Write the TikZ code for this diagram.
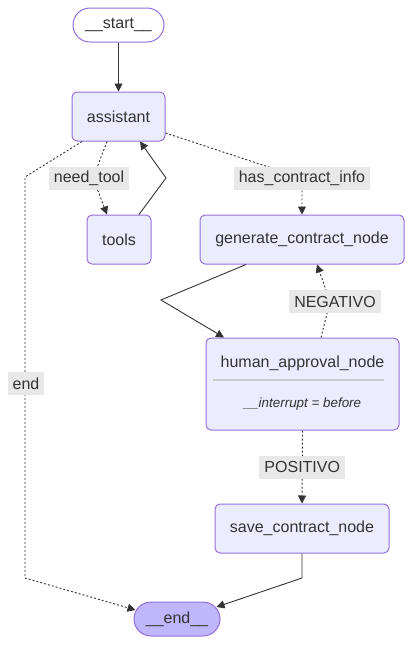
\documentclass[tikz,border=0pt]{standalone}
\usepackage{fontspec}
\setmainfont{Liberation Sans}
\usetikzlibrary{arrows.meta, calc, positioning}
\usepackage{xcolor}
\definecolor{nodefill}{HTML}{ECECFF}
\definecolor{nodeline}{HTML}{9370DB}
\definecolor{endfill}{HTML}{BFB6FC}
\definecolor{ink}{HTML}{333333}
\definecolor{lblfill}{HTML}{E8E8E8}
\definecolor{sepgray}{HTML}{CCCCCC}

\begin{document}
\begin{tikzpicture}[x=1pt, y=-1pt, text=ink,
  font=\fontsize{16}{19}\selectfont,
  box/.style={draw=nodeline, fill=nodefill, line width=1pt, rounded corners=5pt,
    minimum height=49pt, inner sep=0pt},
  pill/.style={draw=nodeline, line width=1pt, rounded corners=17pt,
    minimum height=34pt, inner sep=0pt},
  solidedge/.style={draw=ink, line width=0.9pt, -{Triangle[length=8pt, width=8pt]}},
  dotedge/.style={solidedge, dash pattern=on 2pt off 2pt},
  lbl/.style={fill=lblfill, inner xsep=5pt, inner ysep=0pt, minimum height=23pt}]
  \useasboundingbox (0,0) rectangle (412,645);

  % nodes
  \node[pill, fill=white, minimum width=91pt] (start) at (118.5,25) {\_\_start\_\_};
  \node[box, minimum width=93pt] (assistant) at (118.5,116.5) {assistant};
  \node[box, minimum width=64pt] (tools) at (119,239.5) {tools};
  \node[box, minimum width=204pt] (generate) at (302,239.5) {generate\_contract\_node};
  \node[box, minimum width=193pt, minimum height=92pt] (human) at (302.5,384) {};
  \node (htitle) at (302.5,363) {human\_approval\_node};
  \node[font=\fontsize{13.4}{16}\selectfont\itshape] (hnote) at (302.5,404) {\_\_interrupt = before};
  \draw[sepgray, line width=1.5pt] (213,380) -- (384,380);
  \node[box, minimum width=174pt] (save) at (302,528.5) {save\_contract\_node};
  \node[pill, fill=endfill, minimum width=86pt] (end) at (177,619) {\_\_end\_\_};

  % edges
  \draw[solidedge] (start) -- (assistant);
  \draw[dotedge] ([xshift=-11.5pt]assistant.south) -- (93,178)
    node[lbl, xshift=-4pt] (lneed) {need\_tool} -- ([xshift=-12pt]tools.north);
  \draw[solidedge] ([xshift=20pt]tools.north) -- (166,178) -- ([xshift=21.5pt]assistant.south);
  \draw[dotedge] ([yshift=-16.5pt]assistant.east) -- (302,178)
    node[lbl] (linfo) {has\_contract\_info} -- (generate);
  \draw[dotedge] ([xshift=-36.5pt]assistant.south) -- (25,177) -- (25,383.5)
    node[lbl, xshift=1pt] (lend) {end} -- (25,578) -- ($(end.west)+(2,-9)$);
  \draw[solidedge] ([xshift=-56pt]generate.south) -- (161,300) -- ([xshift=-78.5pt]human.north);
  \draw[dotedge] ([xshift=18.5pt]human.north) -- (330,301.5)
    node[lbl, xshift=5pt] (lneg) {NEGATIVO} -- ([xshift=15pt]generate.south);
  \draw[dotedge] (human.south) -- (save.north)
    node[lbl, midway] (lpos) {POSITIVO};
  \draw[solidedge] (save.south) -- (302,578) -- ($(end.east)+(-4,-12)$);
\end{tikzpicture}
\end{document}
